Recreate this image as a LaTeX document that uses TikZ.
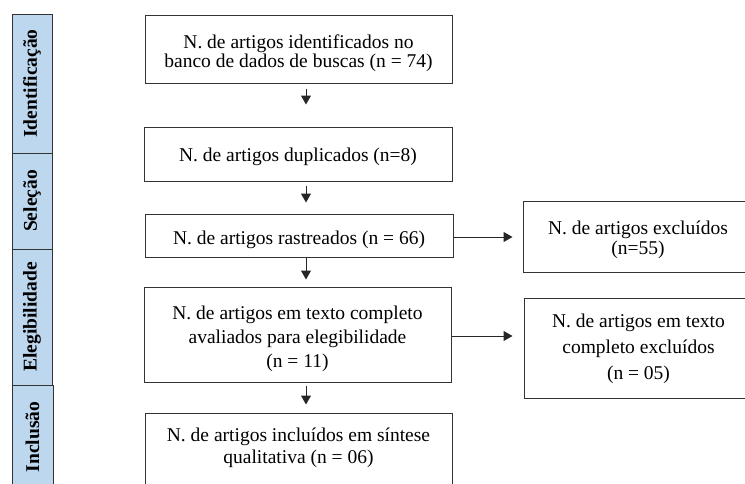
\documentclass[tikz,border=0pt]{standalone}
\usepackage{fontspec}
\setmainfont{Liberation Serif}
\usetikzlibrary{arrows.meta}
\definecolor{azulclaro}{HTML}{BDD7EE}
\tikzset{
  caixa/.style={draw=black!80, line width=1pt, fill=white, align=center, inner sep=0pt,
    font=\fontsize{19.5}{#1}\selectfont},
  caixa/.default=22,
  texto/.style 2 args={text height=#1, text depth=#2},
  etapa/.style={draw=black!80, line width=1pt, fill=azulclaro, rotate=90, inner sep=0pt,
    font=\bfseries\fontsize{19.5}{22}\selectfont},
  seta/.style={-{Triangle[width=10pt,length=9pt]}, line width=1pt, black!85},
}

\begin{document}
\begin{tikzpicture}[x=1pt, y=-1pt]
                \useasboundingbox (0,0) rectangle (745,483);
                \clip (0,0) rectangle (745,483);

                % draw the stages on the left
                \node[etapa, minimum width=139, minimum height=40] (sIdent) at (32,83.5) {Identificação};
                \node[etapa, minimum width=96, minimum height=40] (sSel) at (32,201) {Seleção};
                \node[etapa, minimum width=136, minimum height=40] (sEleg) at (32,317) {Elegibilidade};
                \node[etapa, minimum width=104, minimum height=41] (sIncl) at (32.5,437) {Inclusão};

                % draw the boxes of the main column
                \node[caixa=19, texto={40pt}{4pt}, minimum width=307, minimum height=68] (ident) at (298.5,49)
                    {N. de artigos identificados no\\banco de dados de buscas (n = 74)};
                \node[caixa, texto={15pt}{0pt}, minimum width=308, minimum height=54] (dupl) at (298,154)
                    {N. de artigos duplicados (n=8)};
                \node[caixa, texto={18pt}{0pt}, minimum width=308, minimum height=43] (rastr) at (299,235.5)
                    {N. de artigos rastreados (n = 66)};
                \node[caixa=24, texto={68pt}{3pt}, minimum width=307, minimum height=95] (elegib) at (297.5,334.5)
                    {N. de artigos em texto completo\\avaliados para elegibilidade\\(n = 11)};
                \node[caixa=22, texto={40pt}{23pt}, minimum width=307, minimum height=84] (incl) at (298.5,455)
                    {N. de artigos incluídos em síntese\\qualitativa (n = 06)};

                % draw the boxes of the excluded articles
                \node[caixa=19.5, texto={38pt}{3pt}, minimum width=230, minimum height=71] (excl) at (638,236.5)
                    {N. de artigos excluídos\\(n=55)};
                \node[caixa=26, texto={68pt}{5pt}, minimum width=229, minimum height=100] (exclt) at (638.5,348)
                    {N. de artigos em texto\\completo excluídos\\(n = 05)};

                % draw the arrows
                \coordinate (eixo) at (306,0);
                \draw[seta, shorten <=5pt, shorten >=22pt] (ident.south -| eixo) -- (dupl.north -| eixo);
                \draw[seta, shorten <=4pt, shorten >=11pt] (dupl.south -| eixo) -- (rastr.north -| eixo);
                \draw[seta, shorten >=7pt] (rastr.south -| eixo) -- (elegib.north -| eixo);
                \draw[seta, shorten <=3pt, shorten >=8pt] (elegib.south -| eixo) -- (incl.north -| eixo);
                \draw[seta, shorten >=10pt] ([yshift=-1.5pt]rastr.east) -- ([yshift=-1.5pt]rastr.east -| excl.west);
                \draw[seta, shorten >=11pt] ([yshift=-1.5pt]elegib.east) -- ([yshift=-1.5pt]elegib.east -| exclt.west);

            \end{tikzpicture}
\end{document}
